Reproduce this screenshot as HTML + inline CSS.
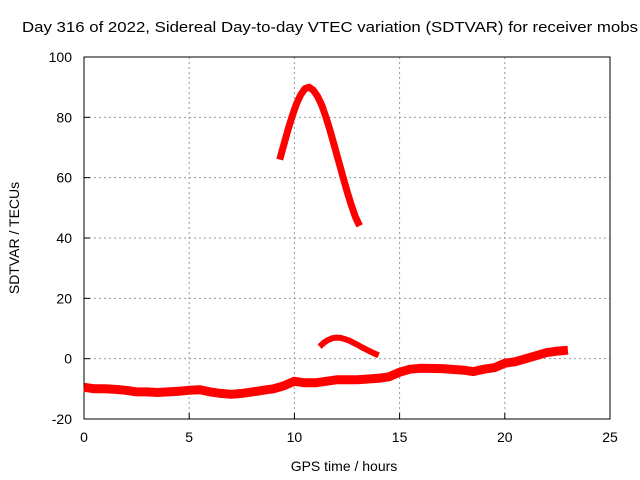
<!DOCTYPE html>
<html><head><meta charset="utf-8"><style>
body{margin:0;background:#fff}
svg{display:block;font-family:"Liberation Sans",sans-serif}
</style></head><body>
<svg id="chart" width="640" height="480" viewBox="0 0 640 480">
<text x="22" y="32" font-size="15" textLength="616" lengthAdjust="spacingAndGlyphs" fill="#000">Day 316 of 2022, Sidereal Day-to-day VTEC variation (SDTVAR) for receiver mobs</text>
<g id="grid"></g>
<rect x="84" y="57" width="526" height="362" fill="none" stroke="#000" stroke-width="1"/>
<g id="ticks"></g>
<g id="series"></g>
<text x="344" y="471" font-size="14" text-anchor="middle">GPS time / hours</text>
<text transform="translate(19,238) rotate(-90)" font-size="14" text-anchor="middle">SDTVAR / TECUs</text>
</svg>
<script>
const xTicks=[0,5,10,15,20,25];
const yTicks=[-20,0,20,40,60,80,100];
const mainT=[0,0.5,1,1.5,2,2.5,3,3.5,4,4.5,5,5.5,6,6.5,7,7.5,8,8.5,9,9.5,10,10.5,11,11.5,12,13,14,14.5,15,15.5,16,17,18,18.5,19,19.5,20,20.5,21,21.5,22,22.5,23];
const mainV=[-9.5,-10,-10,-10.2,-10.5,-11,-11,-11.2,-11,-10.8,-10.5,-10.3,-11,-11.5,-11.8,-11.5,-11,-10.5,-10,-9,-7.5,-8,-8,-7.5,-7,-7,-6.5,-6,-4.5,-3.5,-3.2,-3.3,-3.8,-4.3,-3.5,-3,-1.5,-1,0,1,2,2.5,2.8];
const arcT=[9.3,9.5,9.7,9.9,10.1,10.3,10.5,10.7,10.9,11.1,11.3,11.5,11.7,11.9,12.1,12.3,12.5,12.7,12.9,13.1];
const arcV=[66,71,76,80.5,84.5,87.5,89.5,90,89,87,84,80,75.5,70.5,65.5,60.5,55.5,51,47,44];
const bumpT=[11.2,11.4,11.6,11.8,12,12.2,12.4,12.6,12.8,13,13.2,13.4,13.6,13.8,14];
const bumpV=[4,5.3,6.2,6.8,7,6.9,6.5,6,5.3,4.6,3.8,3.1,2.4,1.7,1.1];
const X=t=>84+t*526/25;
const Y=v=>57+(100-v)*362/120;
const NS="http://www.w3.org/2000/svg";
const grid=document.getElementById('grid'),ticks=document.getElementById('ticks'),ser=document.getElementById('series');
function mk(tag,attrs,parent){const e=document.createElementNS(NS,tag);for(const k in attrs)e.setAttribute(k,attrs[k]);parent.appendChild(e);return e;}
xTicks.forEach(t=>{
 if(t>0&&t<25){const g=mk('line',{x1:X(t),x2:X(t),y1:57,y2:419,stroke:'#999','stroke-dasharray':'2,3'},grid);
 
 }
 const l=mk('line',{x1:X(t),x2:X(t),y1:419,y2:413,stroke:'#000'},ticks);
 
 
 const tx=mk('text',{x:X(t),y:442,'font-size':14,'text-anchor':'middle'},ticks);tx.textContent=t;
 
 
});
yTicks.forEach(v=>{
 if(v>-20&&v<100){const g=mk('line',{x1:84,x2:610,y1:Y(v),y2:Y(v),stroke:'#999','stroke-dasharray':'2,3'},grid);
 
 }
 const l=mk('line',{x1:84,x2:90,y1:Y(v),y2:Y(v),stroke:'#000'},ticks);
 
 
 const tx=mk('text',{x:72,y:Y(v)+5,'font-size':14,'text-anchor':'end'},ticks);tx.textContent=v;
 
 
});
function line(T,V,w,name){
 const pts=T.map((t,i)=>X(t).toFixed(1)+','+Y(V[i]).toFixed(1)).join(' ');
 const p=mk('polyline',{points:pts,fill:'none',stroke:'#f00','stroke-width':w,'stroke-linejoin':'round','stroke-linecap':'butt'},ser);
 
 
}
line(mainT,mainV,9,'series-main-sdtvar');
line(arcT,arcV,7,'series-arc-sdtvar');
line(bumpT,bumpV,6,'series-bump-sdtvar');
</script>
</body></html>
